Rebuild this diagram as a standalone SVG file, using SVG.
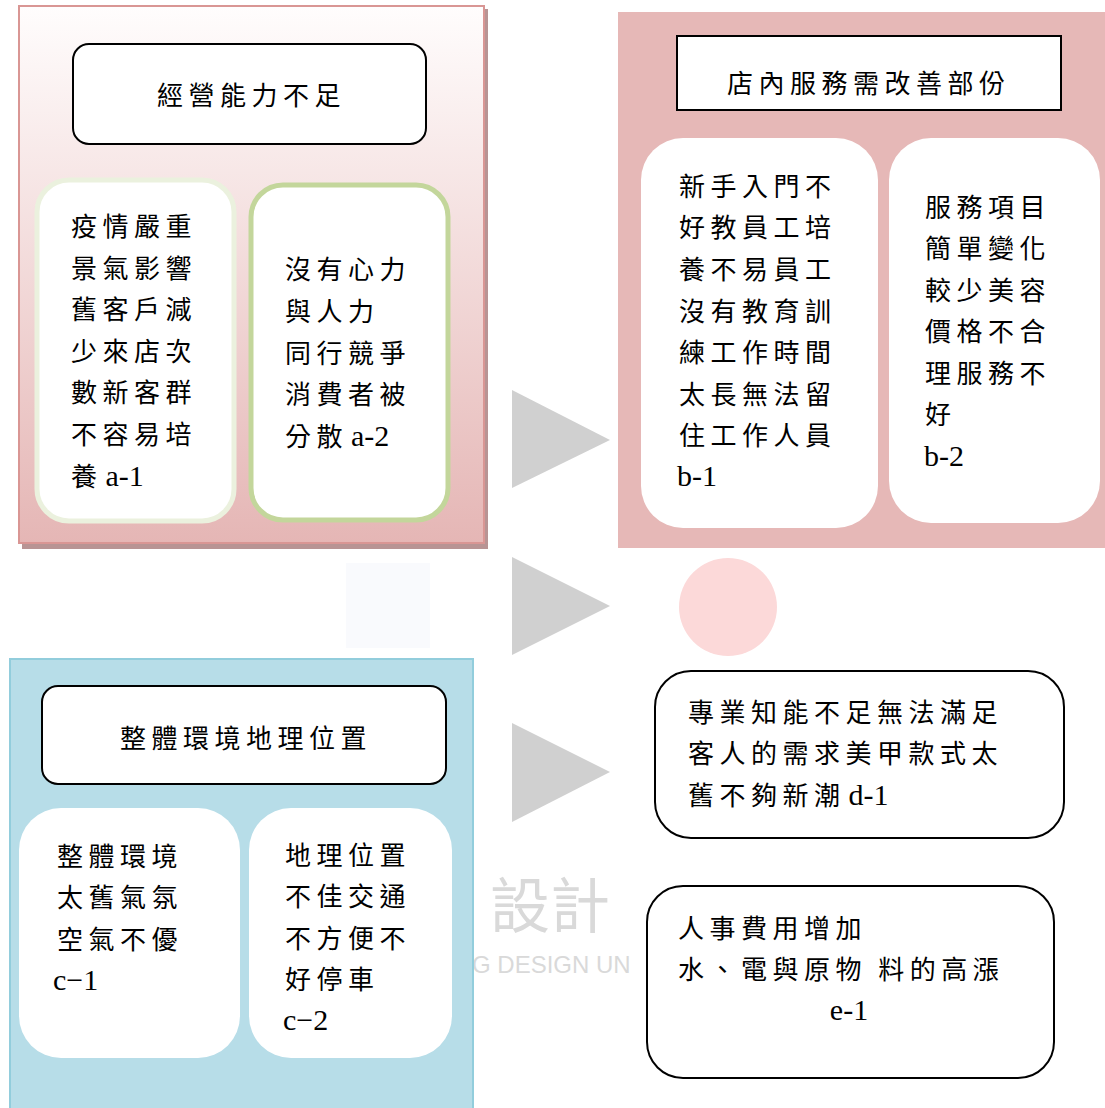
<svg xmlns="http://www.w3.org/2000/svg" width="1105" height="1108" viewBox="0 0 1105 1108">
<style>
text{font-family:"Noto Sans CJK TC","Noto Sans CJK SC",sans-serif;font-size:26px;fill:#000;letter-spacing:5.5px}
.lat{font-family:"Liberation Serif",serif;font-size:30px;letter-spacing:0}
.title{stroke:#000;stroke-width:2;fill:#fff}
.card{fill:#fff}
.arrow{fill:#d0d0d0}
.wm{font-family:"Noto Sans CJK TC",sans-serif;fill:#d9d9d9;letter-spacing:0}
</style>
<defs>
<linearGradient id="gA" x1="0" y1="0" x2="0" y2="1">
<stop offset="0" stop-color="#fffdfd"/>
<stop offset="1" stop-color="#e5b6b5"/>
</linearGradient>
</defs>
<rect width="1105" height="1108" fill="#fff"/>

<g id="watermark">
<text class="wm" x="490" y="928" style="font-size:60px">設計</text>
<text class="wm" x="472" y="973" style="font-family:'Liberation Sans',sans-serif;font-size:24px">G DESIGN UN</text>
</g>

<g id="decor">
<rect x="346" y="563" width="84" height="85" fill="#f9fafd"/>
<circle cx="728" cy="607" r="49" fill="#fcd9d9"/>
</g>

<g id="connectors">
<polygon class="arrow" points="512,390 610,440 512,488"/>
<polygon class="arrow" points="512,557 610,606 512,655"/>
<polygon class="arrow" points="512,723 610,772 512,822"/>
</g>

<g id="panelA">
<rect x="125" y="505" width="203" height="43" rx="14" fill="#fff" stroke="#3a2020" stroke-width="2"/>
<rect x="22" y="9" width="466" height="540" fill="#b89494"/>
<rect x="19" y="6" width="465" height="537" fill="url(#gA)" stroke="#d99694" stroke-width="2"/>
<g id="titleA">
<rect class="title" x="73" y="44" width="353" height="100" rx="16"/>
<text x="157" y="105">經營能力不足</text>
</g>
<g id="a1">
<rect class="card" x="37" y="180" width="197" height="341" rx="32" stroke="#ebf1de" stroke-width="5"/>
<text x="71" y="236">疫情嚴重</text>
<text x="71" y="278">景氣影響</text>
<text x="71" y="319">舊客戶減</text>
<text x="71" y="361">少來店次</text>
<text x="71" y="402">數新客群</text>
<text x="71" y="444">不容易培</text>
<text x="71" y="486">養<tspan class="lat" dx="3">a-1</tspan></text>
</g>
<g id="a2">
<rect class="card" x="251" y="185" width="197" height="335" rx="32" stroke="#c3d69b" stroke-width="5"/>
<text x="285" y="279">沒有心力</text>
<text x="285" y="321">與人力</text>
<text x="285" y="363">同行競爭</text>
<text x="285" y="404">消費者被</text>
<text x="285" y="446">分散<tspan class="lat" dx="3">a-2</tspan></text>
</g>
</g>

<g id="panelB">
<rect x="618" y="12" width="487" height="536" fill="#e6b8b7"/>
<g id="titleB">
<rect class="title" x="677" y="36" width="384" height="74"/>
<text x="727" y="93">店內服務需改善部份</text>
</g>
<g id="b1">
<rect class="card" x="641" y="138" width="237" height="390" rx="42"/>
<text x="679" y="196">新手入門不</text>
<text x="679" y="237">好教員工培</text>
<text x="679" y="279">養不易員工</text>
<text x="679" y="321">沒有教育訓</text>
<text x="679" y="362">練工作時間</text>
<text x="679" y="404">太長無法留</text>
<text x="679" y="445">住工作人員</text>
<text x="677" y="486" class="lat">b-1</text>
</g>
<g id="b2">
<rect class="card" x="889" y="138" width="211" height="385" rx="42"/>
<text x="925" y="217">服務項目</text>
<text x="925" y="258">簡單變化</text>
<text x="925" y="300">較少美容</text>
<text x="925" y="341">價格不合</text>
<text x="925" y="383">理服務不</text>
<text x="925" y="424">好</text>
<text x="924" y="466" class="lat">b-2</text>
</g>
</g>

<g id="panelC">
<rect x="10" y="659" width="463" height="452" fill="#b7dde8" stroke="#92cddc" stroke-width="2"/>
<g id="titleC">
<rect class="title" x="42" y="686" width="404" height="98" rx="16"/>
<text x="120" y="748">整體環境地理位置</text>
</g>
<g id="c1">
<rect class="card" x="19" y="808" width="221" height="250" rx="42"/>
<text x="57" y="866">整體環境</text>
<text x="57" y="907">太舊氣氛</text>
<text x="57" y="949">空氣不優</text>
<text x="53" y="990" class="lat">c−1</text>
</g>
<g id="c2">
<rect class="card" x="249" y="808" width="203" height="250" rx="42"/>
<text x="285" y="865">地理位置</text>
<text x="285" y="906">不佳交通</text>
<text x="285" y="948">不方便不</text>
<text x="285" y="989">好停車</text>
<text x="283" y="1030" class="lat">c−2</text>
</g>
</g>

<g id="d1">
<rect class="title" x="655" y="671" width="409" height="167" rx="36"/>
<text x="688" y="722">專業知能不足無法滿足</text>
<text x="688" y="763">客人的需求美甲款式太</text>
<text x="688" y="805">舊不夠新潮<tspan class="lat" dx="3">d-1</tspan></text>
</g>

<g id="e1">
<rect class="title" x="647" y="886" width="407" height="192" rx="36"/>
<text x="678" y="938">人事費用增加</text>
<text x="678" y="979">水、電與原物 料的高漲</text>
<text x="849" y="1020" class="lat" text-anchor="middle">e-1</text>
</g>
</svg>
